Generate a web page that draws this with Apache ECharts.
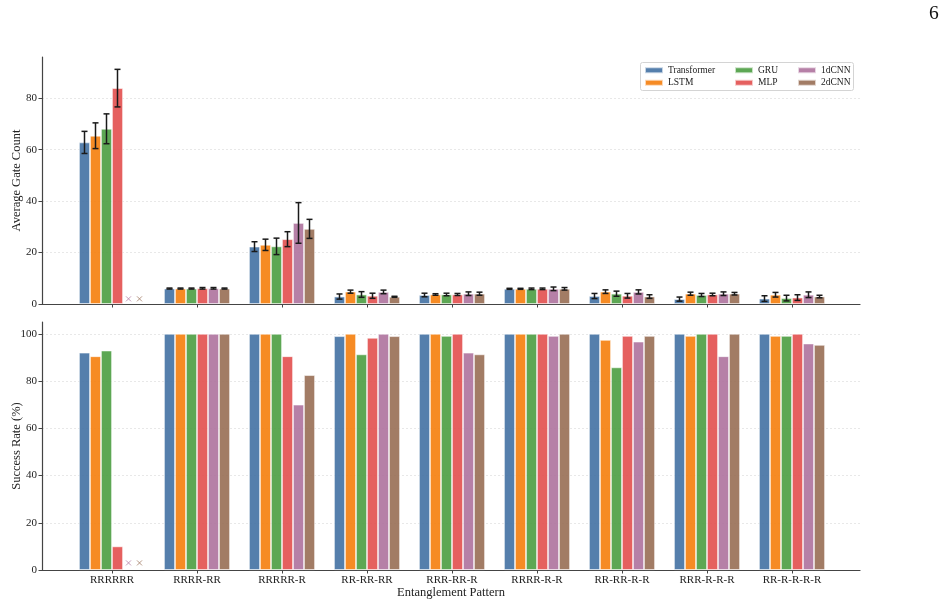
<!DOCTYPE html>
<html lang="en">
<head>
    <meta charset="UTF-8">
    <title>Gate count and success rate</title>
    <style>
        html, body { margin: 0; padding: 0; background: #fff; }
        #main { width: 947px; height: 606px; }
    </style>
</head>
<body>
<div id="main"></div>
<script src="https://cdn.jsdelivr.net/npm/echarts@6/dist/echarts.min.js"></script>
<script>
    // categories and models
    var patterns = ['RRRRRR', 'RRRR-RR', 'RRRRR-R', 'RR-RR-RR', 'RRR-RR-R', 'RRRR-R-R', 'RR-RR-R-R', 'RRR-R-R-R', 'RR-R-R-R-R'];
    var models = ['Transformer', 'LSTM', 'GRU', 'MLP', '1dCNN', '2dCNN'];
    var colors = ['#4c78a8', '#f58518', '#54a24b', '#e45756', '#b279a2', '#9d755d'];

    // average gate count (mean)
    var gateTransformer = [62.8, 6.0, 22.3, 2.9, 3.5, 5.9, 3.1, 1.9, 2.1];
    var gateLSTM = [65.4, 6.0, 23.0, 4.8, 3.7, 5.9, 4.8, 4.0, 3.6];
    var gateGRU = [68.1, 6.0, 22.4, 3.7, 3.7, 5.9, 4.0, 3.5, 2.3];
    var gateMLP = [83.9, 6.1, 25.2, 3.2, 3.7, 5.9, 3.2, 3.7, 2.5];
    var gate1dCNN = [null, 6.1, 31.5, 4.7, 4.0, 5.9, 4.7, 4.0, 3.6];
    var gate2dCNN = [null, 6.0, 29.2, 2.8, 4.0, 5.9, 2.9, 4.0, 2.9];

    // error bars (std)
    var errTransformer = [4.3, 0.2, 1.9, 1.0, 0.7, 0.2, 1.0, 0.8, 1.1];
    var errLSTM = [5.0, 0.2, 2.2, 0.6, 0.3, 0.2, 0.7, 0.6, 0.9];
    var errGRU = [5.8, 0.2, 3.2, 1.1, 0.5, 0.3, 1.0, 0.6, 1.1];
    var errMLP = [7.3, 0.3, 2.9, 1.0, 0.4, 0.3, 0.9, 0.5, 1.1];
    var err1dCNN = [null, 0.3, 7.9, 0.7, 0.7, 0.7, 0.8, 0.7, 1.1];
    var err2dCNN = [null, 0.2, 3.7, 0.2, 0.6, 0.5, 0.7, 0.5, 0.5];

    // success rate (%)
    var succTransformer = [92.0, 100, 100, 99.0, 100, 100, 100, 100, 100];
    var succLSTM = [90.5, 100, 100, 100, 100, 100, 97.4, 99.1, 99.1];
    var succGRU = [92.9, 100, 100, 91.3, 99.1, 100, 85.8, 100, 99.1];
    var succMLP = [10.0, 100, 90.5, 98.3, 100, 100, 99.1, 100, 100];
    var succ1dCNN = [null, 100, 70.0, 100, 92.0, 99.1, 96.7, 90.5, 95.9];
    var succ2dCNN = [null, 100, 82.5, 99.0, 91.3, 100, 99.1, 100, 95.3];

    var gateMeans = [gateTransformer, gateLSTM, gateGRU, gateMLP, gate1dCNN, gate2dCNN];
    var gateErrs = [errTransformer, errLSTM, errGRU, errMLP, err1dCNN, err2dCNN];
    var succRates = [succTransformer, succLSTM, succGRU, succMLP, succ1dCNN, succ2dCNN];

    var FONT = 'Liberation Serif';
    var TXT = '#222';
    var AXIS = '#444';

    // layout
    var plotL = 42, plotR = 860;
    var bandL = 69.5, bandW = 765;
    var barW = 11;
    var top1 = 57, bot1 = 304, max1 = 96, lastTick1 = 80;
    var top2 = 322, bot2 = 570, max2 = 105, lastTick2 = 100;
    var missY1 = 2, missY2 = 3;

    var myChart = echarts.init(document.getElementById('main'));

    var grids = [], xAxes = [], yAxes = [], series = [];

    function addPanel(top, bot, max, lastTick, yName, showLabels, xName) {
        var h = bot - top;
        var base = grids.length;
        var tickH = lastTick * h / max;
        // frame (spines + axis names)
        grids.push({ left: plotL, top: top, width: plotR - plotL, height: h });
        xAxes.push({
            gridIndex: base, type: 'value', min: 0, max: 1,
            axisLine: { show: true, lineStyle: { color: AXIS, width: 1.2 } },
            axisTick: { show: false }, axisLabel: { show: false }, splitLine: { show: false },
            name: xName || '', nameLocation: 'middle', nameGap: 16,
            nameTextStyle: { fontFamily: FONT, fontSize: 12.5, color: TXT }
        });
        yAxes.push({
            gridIndex: base, type: 'value', min: 0, max: 1,
            axisLine: { show: true, lineStyle: { color: AXIS, width: 1.2 } },
            axisTick: { show: false }, axisLabel: { show: false }, splitLine: { show: false },
            name: yName, nameLocation: 'middle', nameGap: 19,
            nameTextStyle: { fontFamily: FONT, fontSize: 12.5, color: TXT }
        });
        // tick labels + grid lines
        grids.push({ left: plotL, top: bot - tickH, width: plotR - plotL, height: tickH });
        xAxes.push({ gridIndex: base + 1, type: 'value', show: false, min: 0, max: 1 });
        yAxes.push({
            gridIndex: base + 1, type: 'value', min: 0, max: lastTick, interval: 20,
            axisLine: { show: false },
            axisTick: { show: true, length: 3.5, lineStyle: { color: AXIS } },
            axisLabel: { fontFamily: FONT, fontSize: 11, color: TXT, margin: 5 },
            splitLine: { show: true, lineStyle: { color: '#e2e2e2', type: [2, 2], width: 0.8 } }
        });
        // bars
        grids.push({ left: bandL, top: top, width: bandW, height: h });
        xAxes.push({
            gridIndex: base + 2, type: 'category', data: patterns,
            axisLine: { show: false },
            axisTick: { show: true, alignWithLabel: true, length: 3.5, lineStyle: { color: AXIS } },
            axisLabel: { show: showLabels, fontFamily: FONT, fontSize: 11, color: TXT, margin: 5 }
        });
        yAxes.push({ gridIndex: base + 2, type: 'value', min: 0, max: max, show: false });
        return base + 2;
    }

    var g1 = addPanel(top1, bot1, max1, lastTick1, 'Average Gate Count', false, '');
    var g2 = addPanel(top2, bot2, max2, lastTick2, 'Success Rate (%)', true, 'Entanglement Pattern');

    function errorRender(off) {
        return function (params, api) {
            var i = api.value(0), m = api.value(1), e = api.value(2);
            var cx = api.coord([i, m])[0] + off;
            var yt = api.coord([i, m + e])[1];
            var yb = api.coord([i, m - e])[1];
            var st = { stroke: '#1a1a1a', lineWidth: 1.5 };
            return {
                type: 'group', children: [
                    { type: 'line', shape: { x1: cx, y1: yt, x2: cx, y2: yb }, style: st },
                    { type: 'line', shape: { x1: cx - 3, y1: yt, x2: cx + 3, y2: yt }, style: st },
                    { type: 'line', shape: { x1: cx - 3, y1: yb, x2: cx + 3, y2: yb }, style: st }
                ]
            };
        };
    }

    models.forEach(function (name, k) {
        var off = (k - 2.5) * barW;
        var barStyle = {
            color: colors[k], opacity: 0.95,
            borderColor: 'rgba(255,255,255,0.7)', borderWidth: 0.8
        };
        series.push({
            name: name, type: 'bar', xAxisIndex: g1, yAxisIndex: g1,
            data: gateMeans[k], barWidth: barW, barGap: '0%', itemStyle: barStyle, z: 2
        });
        series.push({
            name: name, type: 'bar', xAxisIndex: g2, yAxisIndex: g2,
            data: succRates[k], barWidth: barW, barGap: '0%', itemStyle: barStyle, z: 2
        });
        var errData = [];
        var miss1 = [], miss2 = [];
        for (var i = 0; i < patterns.length; i++) {
            if (gateMeans[k][i] != null) errData.push([i, gateMeans[k][i], gateErrs[k][i]]);
            else miss1.push([i, missY1]);
            if (succRates[k][i] == null) miss2.push([i, missY2]);
        }
        series.push({
            type: 'custom', xAxisIndex: g1, yAxisIndex: g1, data: errData,
            encode: { x: 0, y: 1 }, renderItem: errorRender(off), z: 5, silent: true
        });
        var missStyle = { color: 'transparent', borderColor: colors[k], borderWidth: 1, opacity: 0.75 };
        if (miss1.length) series.push({
            type: 'scatter', xAxisIndex: g1, yAxisIndex: g1, data: miss1,
            symbol: 'path://M0 0L10 10M10 0L0 10', symbolSize: 5, symbolOffset: [off, 0], itemStyle: missStyle
        });
        if (miss2.length) series.push({
            type: 'scatter', xAxisIndex: g2, yAxisIndex: g2, data: miss2,
            symbol: 'path://M0 0L10 10M10 0L0 10', symbolSize: 5, symbolOffset: [off, 0], itemStyle: missStyle
        });
    });

    // legend columns (padding 0 so left/top are the item positions)
    function legendCol(left, names) {
        return {
            left: left, top: 64, padding: 0, orient: 'vertical', data: names, icon: 'rect',
            itemWidth: 18, itemHeight: 6, itemGap: 0, selectedMode: false,
            textStyle: { fontFamily: FONT, fontSize: 9.5, color: TXT, lineHeight: 12.5 }
        };
    }

    myChart.setOption({
        animation: false,
        grid: grids,
        xAxis: xAxes,
        yAxis: yAxes,
        legend: [
            legendCol(644, ['Transformer', 'LSTM']),
            legendCol(734, ['GRU', 'MLP']),
            legendCol(797, ['1dCNN', '2dCNN'])
        ],
        graphic: [
            {
                type: 'rect', left: 640, top: 62, z: 1,
                shape: { width: 213, height: 28, r: 2 },
                style: { fill: '#fff', stroke: '#d4d4d4', lineWidth: 1 }
            },
            {
                type: 'text', left: 929, top: 4,
                style: { text: '6', fontFamily: FONT, fontSize: 19.5, fill: '#111' }
            }
        ],
        series: series
    });
</script>
</body>
</html>
